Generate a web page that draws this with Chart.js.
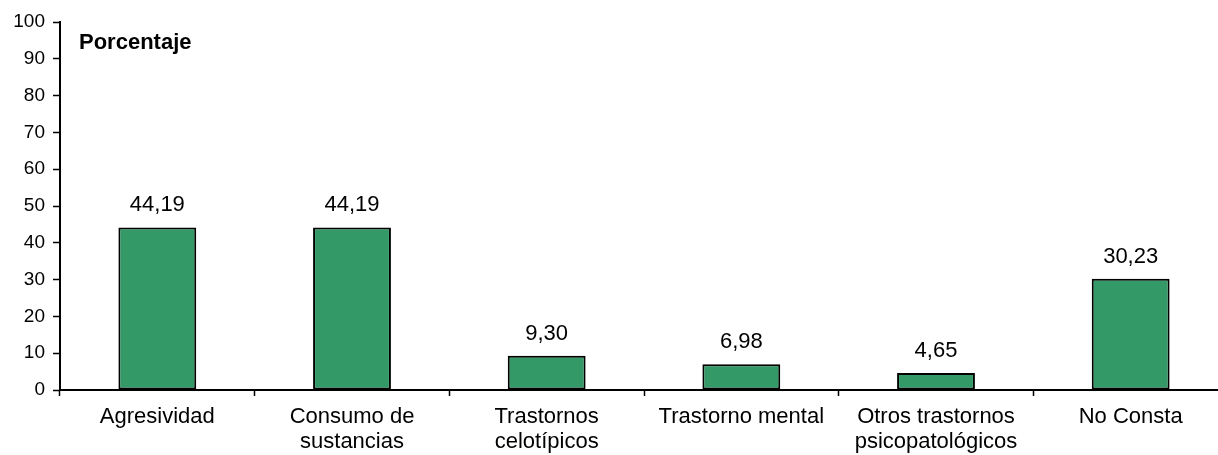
<!DOCTYPE html>
<html>
<head>
<meta charset="utf-8">
<script src="https://cdn.jsdelivr.net/npm/chart.js@4/dist/chart.umd.min.js"></script>
<style>
  html, body { margin: 0; padding: 0; background: #fff; overflow: hidden; }
  #wrap { width: 1230px; height: 455px; position: relative; }
</style>
</head>
<body>
<div id="wrap"><canvas id="chart"></canvas></div>
<script>
const categories = [
  "Agresividad",
  ["Consumo de", "sustancias"],
  ["Trastornos", "celotípicos"],
  "Trastorno mental",
  ["Otros trastornos", "psicopatológicos"],
  "No Consta"
];
const porcentajes = [44.19, 44.19, 9.30, 6.98, 4.65, 30.23];
const yTicks = [0, 10, 20, 30, 40, 50, 60, 70, 80, 90, 100];
const axisTitle = "Porcentaje";

const FONT = "'Liberation Sans', Arial, sans-serif";

// Value labels above each bar, plus the "Porcentaje" caption inside the plot
const annotate = {
  id: 'annotate',
  afterDatasetsDraw(chart) {
    const ctx = chart.ctx;
    const meta = chart.getDatasetMeta(0);
    ctx.save();
    ctx.fillStyle = '#000';
    ctx.font = '22px ' + FONT;
    ctx.textAlign = 'center';
    ctx.textBaseline = 'alphabetic';
    meta.data.forEach((bar, i) => {
      const txt = porcentajes[i].toFixed(2).replace('.', ',');
      ctx.fillText(txt, bar.x, bar.y - 16);
    });
    ctx.font = 'bold 22px ' + FONT;
    ctx.textAlign = 'left';
    ctx.fillText(axisTitle, chart.chartArea.left + 19, 49);
    ctx.restore();
  }
};

new Chart(document.getElementById('chart'), {
  type: 'bar',
  data: {
    labels: categories,
    datasets: [{
      data: porcentajes,
      backgroundColor: '#339966',
      borderColor: '#000',
      borderWidth: 2,
      borderSkipped: false,
      barPercentage: 0.4,
      categoryPercentage: 1.0
    }]
  },
  options: {
    responsive: true,
    maintainAspectRatio: false,
    animation: false,
    layout: { padding: { top: 22, right: 2, left: 0, bottom: 0 } },
    plugins: { legend: { display: false }, tooltip: { enabled: false } },
    scales: {
      x: {
        offset: true,
        grid: {
          display: true,
          drawOnChartArea: false,
          offset: true,
          tickLength: 6,
          tickColor: '#000',
          tickWidth: 1.5
        },
        border: { color: '#000', width: 2 },
        ticks: {
          color: '#000',
          font: { family: FONT, size: 22, lineHeight: 1.12 },
          padding: 9,
          maxRotation: 0,
          autoSkip: false
        },
        afterFit(scale) { scale.height = 65; }
      },
      y: {
        min: 0,
        max: 100,
        afterBuildTicks(scale) { scale.ticks = yTicks.map(v => ({ value: v })); },
        grid: {
          display: true,
          drawOnChartArea: false,
          tickLength: 7,
          tickColor: '#000',
          tickWidth: 1.5
        },
        border: { color: '#000', width: 2 },
        ticks: {
          color: '#000',
          font: { family: FONT, size: 19 },
          padding: 8
        },
        afterFit(scale) { scale.width = 60; }
      }
    }
  },
  plugins: [annotate]
});
</script>
</body>
</html>
